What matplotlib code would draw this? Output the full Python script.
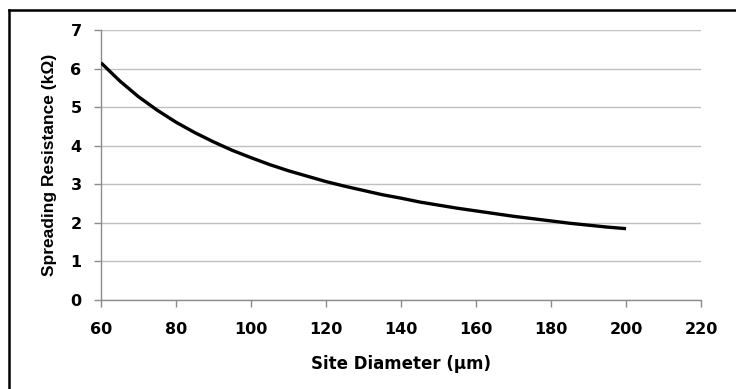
import matplotlib
matplotlib.use('Agg')
import matplotlib.pyplot as plt
from matplotlib.lines import Line2D

# values
diameter = [60, 65, 70, 75, 80, 85, 90, 95, 100, 105, 110, 115, 120, 125, 130,
            135, 140, 145, 150, 155, 160, 165, 170, 175, 180, 185, 190, 195, 200]
resistance = [6.15, 5.68, 5.27, 4.92, 4.61, 4.34, 4.10, 3.88, 3.69, 3.51, 3.35, 3.21,
              3.07, 2.95, 2.84, 2.73, 2.64, 2.54, 2.46, 2.38, 2.31, 2.24, 2.17, 2.11,
              2.05, 1.99, 1.94, 1.89, 1.85]

x_ticks = [60, 80, 100, 120, 140, 160, 180, 200, 220]
y_ticks = [0, 1, 2, 3, 4, 5, 6, 7]

plt.rcParams['font.family'] = ['DejaVu Sans']
plt.rcParams['font.weight'] = 'bold'

W, H = 736, 389
fig = plt.figure(figsize=(W / 100, H / 100), dpi=100)
ax = fig.add_axes([101 / W, 1 - 300 / H, 600 / W, 270 / H])

ax.plot(diameter, resistance, color='black', linewidth=2.4, solid_capstyle='butt',
        solid_joinstyle='round', zorder=3)

ax.set_xlim(60, 220)
ax.set_ylim(0, 7)
ax.set_xticks(x_ticks)
ax.set_yticks(y_ticks)
ax.grid(axis='y', color='#c0c0c0', linewidth=1.0)
ax.set_axisbelow(True)

for side in ['top', 'right']:
    ax.spines[side].set_visible(False)
for side in ['left', 'bottom']:
    ax.spines[side].set_color('#8c8c8c')
    ax.spines[side].set_linewidth(1.0)

ax.tick_params(axis='both', colors='#8c8c8c', length=5, width=1.0, labelsize=11.5,
               labelcolor='black')
ax.tick_params(axis='x', pad=11)
ax.tick_params(axis='y', pad=9)
for lbl in ax.get_xticklabels() + ax.get_yticklabels():
    lbl.set_fontweight('bold')

ax.set_xlabel('Site Diameter (µm)', fontsize=12, fontweight='bold', labelpad=13)
ax.set_ylabel('Spreading Resistance (kΩ)', fontsize=12.5, fontweight='bold', labelpad=10,
              family='Liberation Sans')

# outer chart frame (only left and top visible in the crop)
fig.add_artist(Line2D([8.5 / W, 8.5 / W], [0, 1 - 10 / H], transform=fig.transFigure,
                      color='black', linewidth=1.8))
fig.add_artist(Line2D([8.5 / W, 1], [1 - 10 / H, 1 - 10 / H], transform=fig.transFigure,
                      color='black', linewidth=1.8))

fig.savefig('out.png', dpi=100)
